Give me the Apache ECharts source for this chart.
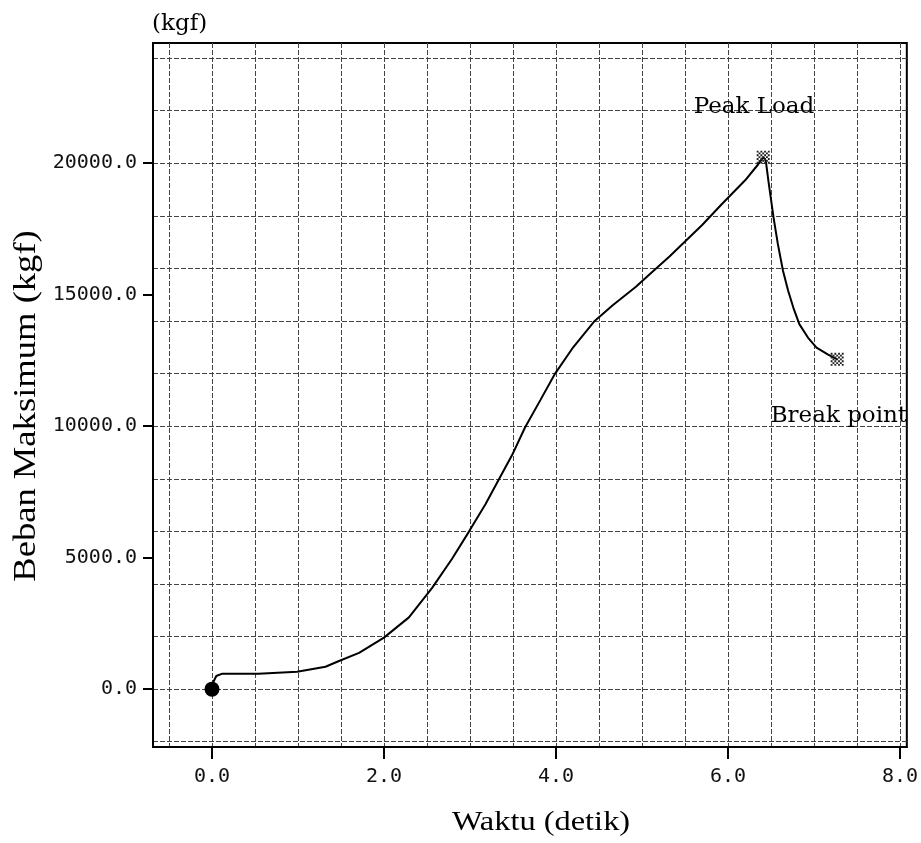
<!DOCTYPE html>
<html><head><meta charset="utf-8">
<script src="https://cdn.jsdelivr.net/npm/echarts@6/dist/echarts.min.js"></script>
<style>html,body{margin:0;padding:0;background:#fff}#c{width:921px;height:843px}</style>
</head><body><div id="c"></div>
<script>
// Data
const timeData = [0, 0.02, 0.05, 0.12, 0.54, 0.99, 1.32, 1.47, 1.71, 2.00, 2.29, 2.56, 2.79, 2.99, 3.18, 3.34, 3.49, 3.64, 3.82, 3.99, 4.20, 4.45, 4.66, 4.93, 5.08, 5.32, 5.51, 5.70, 5.93, 6.20, 6.35, 6.41, 6.44, 6.47, 6.53, 6.58, 6.64, 6.70, 6.76, 6.83, 6.93, 7.03, 7.16, 7.27];
const loadData = [0, 300, 500, 590, 590, 660, 850, 1060, 1380, 1960, 2730, 3850, 4950, 6000, 7030, 8000, 8900, 9950, 11000, 12000, 13000, 14000, 14600, 15300, 15750, 16450, 17050, 17650, 18450, 19350, 19950, 20230, 20100, 19340, 17940, 16930, 15910, 15150, 14510, 13880, 13370, 12990, 12730, 12540];
const xTickLabels = [0, 2, 4, 6, 8];
const yTickLabels = [0, 5000, 10000, 15000, 20000];
const xGridLines = [-0.5, 0, 0.5, 1, 1.5, 2, 2.5, 3, 3.5, 4, 4.5, 5, 5.5, 6, 6.5, 7, 7.5, 8];
const yGridLines = [-2000, 0, 2000, 4000, 6000, 8000, 10000, 12000, 14000, 16000, 18000, 20000, 22000, 24000];
const xRange = [-0.686, 8.08];
const yRange = [-2200, 24570];
const xTitle = 'Waktu (detik)';
const yTitle = 'Beban Maksimum (kgf)';
const unitText = '(kgf)';
const peakText = 'Peak Load';
const breakText = 'Break point';

const curve = timeData.map((t, i) => [t, loadData[i]]);
let peakIdx = 0;
loadData.forEach((v, i) => { if (v > loadData[peakIdx]) peakIdx = i; });
const breakIdx = loadData.length - 1;

// checker symbol
let chk = '';
const n = 7;
for (let i = 0; i < n; i++) for (let j = 0; j < n; j++) if ((i + j) % 2 === 0) chk += 'M' + j + ',' + i + 'h1v1h-1z';
const checker = 'path://' + chk;

const gridLine = { show: true, lineStyle: { color: '#444', width: 1, type: [5, 2] } };
const numFont = { fontFamily: 'DejaVu Sans Mono', fontSize: 20, color: '#111' };
const serif = 'DejaVu Serif';

const chart = echarts.init(document.getElementById('c'), null, { renderer: 'canvas' });
chart.setOption({
  animation: false,
  backgroundColor: '#fff',
  grid: { left: 153, right: 14, top: 43, bottom: 96, show: true, borderColor: '#000', borderWidth: 2, backgroundColor: 'transparent' },
  xAxis: [
    { type: 'value', position: 'bottom', min: xRange[0], max: xRange[1],
      axisLine: { show: true, onZero: false, lineStyle: { color: '#000', width: 2 } },
      axisTick: { show: false, customValues: xGridLines },
      axisLabel: { show: false },
      splitLine: gridLine },
    { type: 'value', position: 'bottom', min: xRange[0], max: xRange[1],
      axisLine: { show: false, onZero: false },
      axisTick: { show: true, inside: false, length: 12, customValues: xTickLabels, lineStyle: { color: '#000', width: 2 } },
      axisLabel: Object.assign({ show: true, margin: 20, customValues: xTickLabels, formatter: v => v.toFixed(1) }, numFont),
      splitLine: { show: false } }
  ],
  yAxis: [
    { type: 'value', position: 'left', min: yRange[0], max: yRange[1],
      axisLine: { show: true, onZero: false, lineStyle: { color: '#000', width: 2 } },
      axisTick: { show: false, customValues: yGridLines },
      axisLabel: { show: false },
      splitLine: gridLine },
    { type: 'value', position: 'left', min: yRange[0], max: yRange[1],
      axisLine: { show: false, onZero: false },
      axisTick: { show: true, inside: false, length: 10, customValues: yTickLabels, lineStyle: { color: '#000', width: 2 } },
      axisLabel: Object.assign({ show: true, margin: 16, customValues: yTickLabels, formatter: v => v.toFixed(1) }, numFont),
      splitLine: { show: false } }
  ],
  series: [
    { type: 'line', data: curve, showSymbol: false, smooth: false,
      lineStyle: { color: '#000', width: 2 }, z: 3 },
    { type: 'scatter', data: [curve[0]], symbol: 'circle', symbolSize: 15,
      itemStyle: { color: '#000', opacity: 1 }, z: 4 },
    { type: 'scatter', data: [curve[peakIdx]], symbol: checker, symbolSize: 13,
      itemStyle: { color: '#222', opacity: 1 }, z: 4,
      label: { show: true, formatter: peakText, position: [-63, -44], align: 'left', verticalAlign: 'middle',
        fontFamily: serif, fontSize: 23, color: '#000' } },
    { type: 'scatter', data: [curve[breakIdx]], symbol: checker, symbolSize: 13,
      itemStyle: { color: '#222', opacity: 1 }, z: 4,
      label: { show: true, formatter: breakText, position: [-60, 63], align: 'left', verticalAlign: 'middle',
        fontFamily: serif, fontSize: 23, color: '#000' } }
  ],
  graphic: [
    { type: 'text', left: 152, top: 13, style: { text: unitText, fontFamily: 'DejaVu Serif', fontSize: 23, fill: '#000' } },
    { type: 'text', x: 541, y: 823, scaleX: 1.2, style: { text: xTitle, fontFamily: 'Liberation Serif', fontSize: 27, fill: '#000', align: 'center', verticalAlign: 'middle' } },
    { type: 'text', x: 27, y: 406, rotation: Math.PI / 2, scaleX: 1.18, style: { text: yTitle, fontFamily: 'Liberation Serif', fontSize: 31, fill: '#000', align: 'center', verticalAlign: 'middle' } }
  ]
});
</script>
</body></html>
